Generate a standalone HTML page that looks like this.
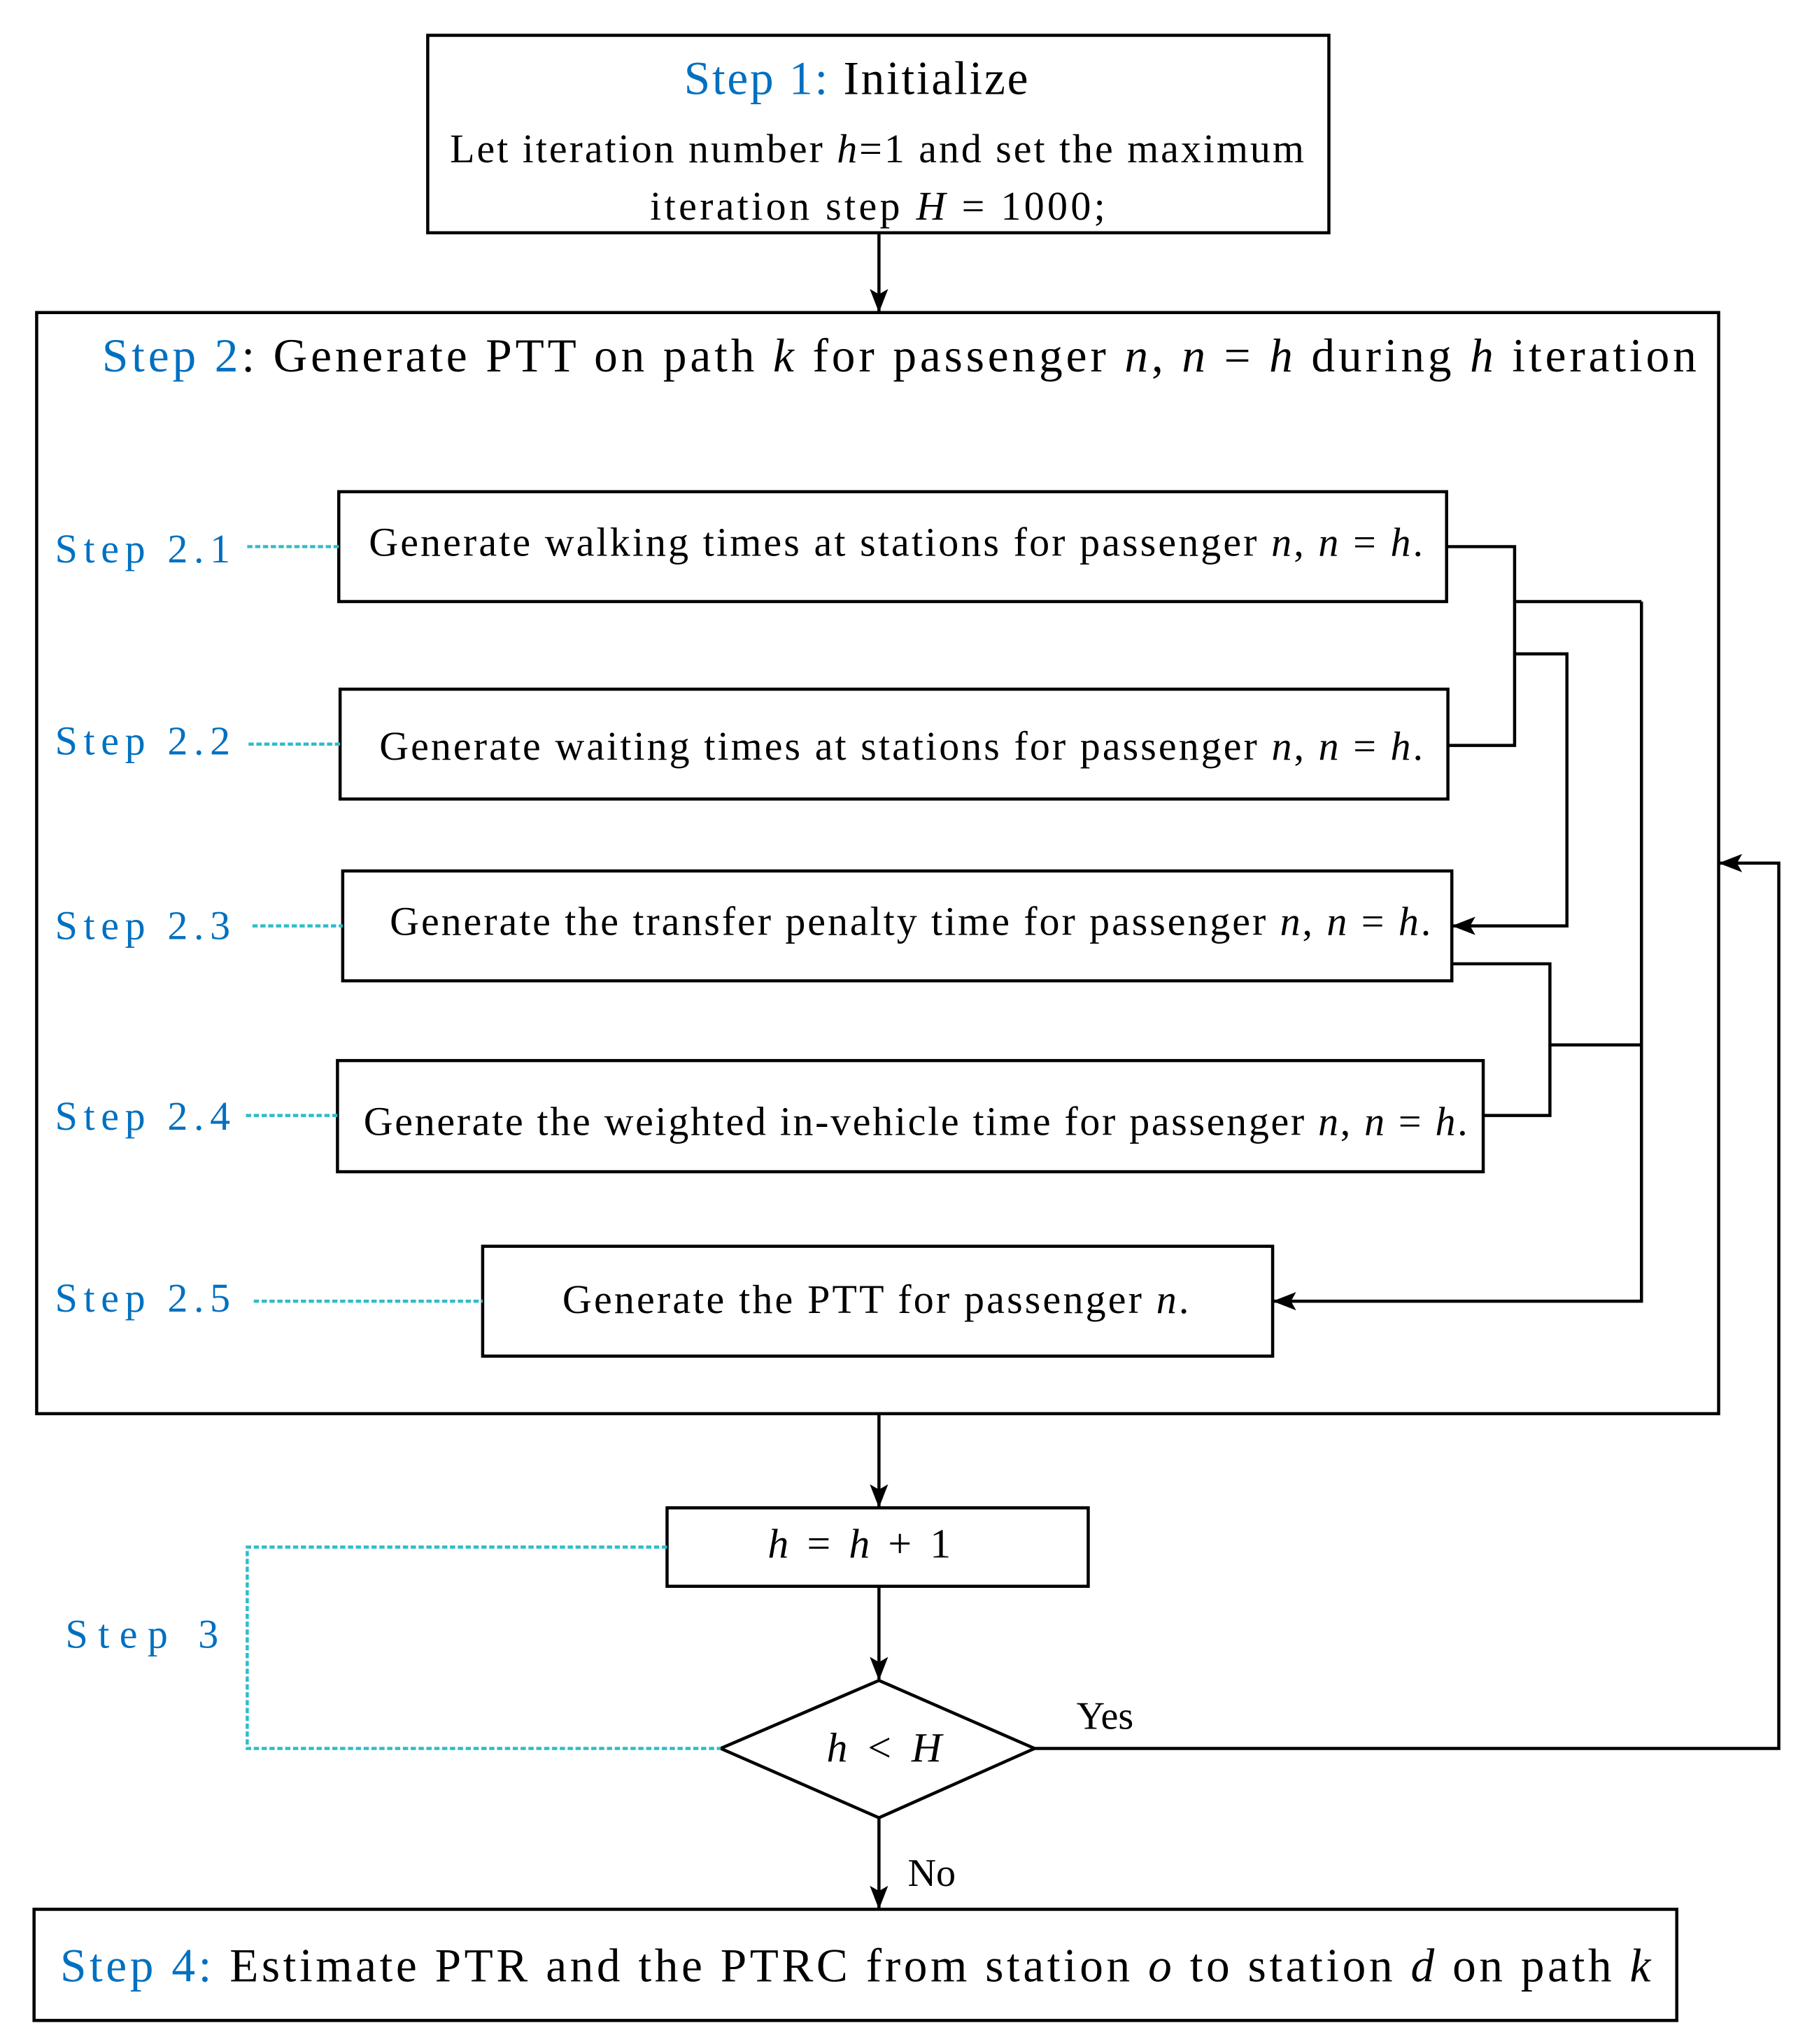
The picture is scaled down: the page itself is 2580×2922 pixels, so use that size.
<!DOCTYPE html>
<html><head><meta charset="utf-8"><style>
html,body{margin:0;padding:0;background:#fff;}
svg{display:block;}
.t{font-family:"Liberation Serif",serif;fill:#000;}
.m{font-family:"Liberation Serif",serif;font-style:italic;}
.b{fill:#0070c0;}
.s{font-family:"Liberation Serif","Noto Serif CJK SC",serif;fill:#0070c0;font-size:31px;}
</style></head><body>
<svg width="2580" height="2922" viewBox="0 0 1380 1563" xmlns="http://www.w3.org/2000/svg">
<defs>
<marker id="a2" markerWidth="18" markerHeight="14" refX="17" refY="7" orient="auto" markerUnits="userSpaceOnUse" viewBox="0 0 18 14"><path d="M0,0 L18,7 L0,14 L4,7 z" fill="#000"/></marker></defs>
<g fill="none" stroke="#000" stroke-width="2.4">
<rect x="327" y="27" width="689" height="151"/>
<rect x="28" y="239" width="1286" height="842"/>
<rect x="259" y="376" width="847" height="84"/>
<rect x="260" y="527" width="847" height="84"/>
<rect x="262" y="666" width="848" height="84"/>
<rect x="258" y="811" width="876" height="85"/>
<rect x="369" y="953" width="604" height="84"/>
<rect x="510" y="1153" width="322" height="60"/>
<polygon points="551,1337 672,1285 791,1337 672,1390"/>
<rect x="26" y="1460" width="1256" height="85"/>
<line x1="672" y1="178" x2="672" y2="238" marker-end="url(#a2)"/>
<line x1="672" y1="1081" x2="672" y2="1152" marker-end="url(#a2)"/>
<line x1="672" y1="1213" x2="672" y2="1284" marker-end="url(#a2)"/>
<line x1="672" y1="1390" x2="672" y2="1459" marker-end="url(#a2)"/>
<polyline points="1106,418 1158,418 1158,570 1107,570"/>
<line x1="1158" y1="460" x2="1255" y2="460"/>
<polyline points="1158,500 1198,500 1198,708 1111,708" marker-end="url(#a2)"/>
<polyline points="1110,737 1185,737 1185,853 1134,853"/>
<line x1="1185" y1="799" x2="1255" y2="799"/>
<polyline points="1255,460 1255,995 974,995" marker-end="url(#a2)"/>
<polyline points="791,1337 1360,1337 1360,660 1315,660" marker-end="url(#a2)"/>
</g>
<g fill="none" stroke="#2fbcc8" stroke-width="2.4" stroke-dasharray="4,2">
<line x1="189" y1="418" x2="259" y2="418"/>
<line x1="190" y1="569" x2="260" y2="569"/>
<line x1="193" y1="708" x2="262" y2="708"/>
<line x1="188" y1="853" x2="258" y2="853"/>
<line x1="194" y1="995" x2="369" y2="995"/>
<polyline points="510,1183 189,1183 189,1337 551,1337"/>
</g>
<text class="t" x="523" y="72" font-size="36" textLength="263" lengthAdjust="spacing"><tspan class="b">Step 1:</tspan> Initialize</text>
<text class="t" x="344" y="124" font-size="31" textLength="653" lengthAdjust="spacing">Let iteration number  <tspan class="m">h</tspan>=1 and set the maximum</text>
<text class="t" x="497" y="168" font-size="31" textLength="348" lengthAdjust="spacing">iteration step  <tspan class="m">H</tspan> = 1000;</text>
<text class="t" x="78" y="284" font-size="36" textLength="1219" lengthAdjust="spacing"><tspan class="b">Step 2</tspan>: Generate PTT on path <tspan class="m">k</tspan>  for passenger <tspan class="m">n</tspan>, <tspan class="m">n</tspan> = <tspan class="m">h</tspan>  during <tspan class="m">h</tspan>  iteration</text>
<text class="t" x="282" y="425" font-size="31" textLength="806" lengthAdjust="spacing">Generate walking times at stations for passenger  <tspan class="m">n</tspan>, <tspan class="m">n</tspan> = <tspan class="m">h</tspan>.</text>
<text class="t" x="290" y="581" font-size="31" textLength="798" lengthAdjust="spacing">Generate waiting times at stations for passenger  <tspan class="m">n</tspan>, <tspan class="m">n</tspan> = <tspan class="m">h</tspan>.</text>
<text class="t" x="298" y="715" font-size="31" textLength="796" lengthAdjust="spacing">Generate the transfer penalty time for passenger  <tspan class="m">n</tspan>, <tspan class="m">n</tspan> = <tspan class="m">h</tspan>.</text>
<text class="t" x="278" y="868" font-size="31" textLength="844" lengthAdjust="spacing">Generate the weighted in-vehicle time for passenger <tspan class="m">n</tspan>, <tspan class="m">n</tspan> = <tspan class="m">h</tspan>.</text>
<text class="t" x="430" y="1004" font-size="31" textLength="479" lengthAdjust="spacing">Generate the PTT for passenger  <tspan class="m">n</tspan>.</text>
<text class="t" x="587" y="1191" font-size="32" textLength="140" lengthAdjust="spacing"><tspan class="m">h</tspan> = <tspan class="m">h</tspan> + 1</text>
<text class="t" x="632" y="1347" font-size="32" textLength="88" lengthAdjust="spacing"><tspan class="m">h</tspan> &lt; <tspan class="m">H</tspan></text>
<text class="t" x="823" y="1322" font-size="30">Yes</text>
<text class="t" x="694" y="1442" font-size="30">No</text>
<text class="t" x="46" y="1515" font-size="36" textLength="1216" lengthAdjust="spacing"><tspan class="b">Step 4:</tspan> Estimate PTR and the PTRC from station  <tspan class="m">o</tspan>  to station  <tspan class="m">d</tspan>  on path  <tspan class="m">k</tspan></text>
<text class="s" x="42" y="430" textLength="134" lengthAdjust="spacing">Step 2.1</text>
<text class="s" x="42" y="577" textLength="134" lengthAdjust="spacing">Step 2.2</text>
<text class="s" x="42" y="718" textLength="134" lengthAdjust="spacing">Step 2.3</text>
<text class="s" x="42" y="864" textLength="134" lengthAdjust="spacing">Step 2.4</text>
<text class="s" x="42" y="1003" textLength="134" lengthAdjust="spacing">Step 2.5</text>
<text class="s" x="50" y="1260" font-size="34" textLength="117" lengthAdjust="spacing">Step 3</text>
</svg>
</body></html>
